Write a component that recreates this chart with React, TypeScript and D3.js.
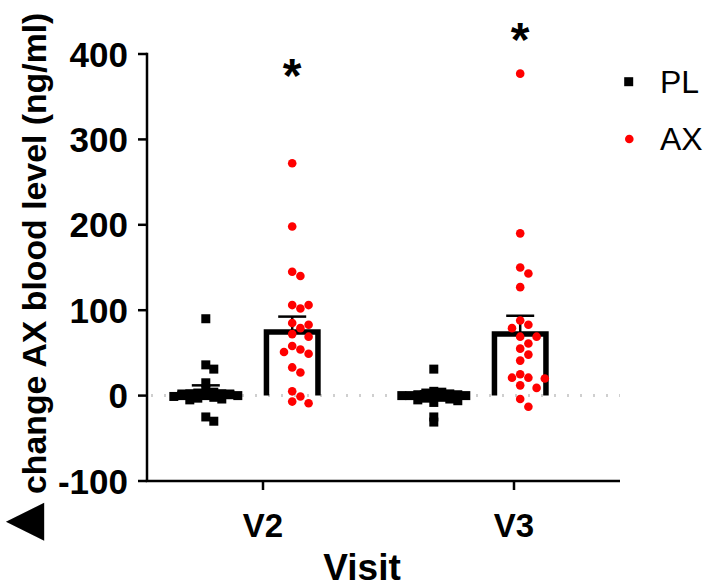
import React from 'react';
import * as d3 from 'd3';

const VISITS = ['V2', 'V3'];
const GROUPS = ['PL', 'AX'];

// individual subjects
const PL_V2 = [90, 36, 31, 15, 6, 4, 3, 2, 2, 1, 0, 0, 0, -1, -2, -3, -4, -5, -25, -30];
const PL_V3 = [31, 5, 4, 3, 2, 1, 1, 0, 0, 0, -1, -2, -3, -4, -5, -6, -8, -25, -31];
const AX_V2 = [272, 198, 145, 140, 106, 106, 102, 85, 83, 79, 72, 69, 58, 54, 51, 49, 33, 27, 5, -1, -7, -9];
const AX_V3 = [377, 190, 150, 143, 127, 88, 83, 79, 69, 69, 61, 55, 48, 41, 25, 21, 21, 20, 12, 9, -4, -13];

// bar heights (mean) and error bars (SEM)
const PL_MEAN = [4, 1];
const PL_SEM = [8, 4];
const AX_MEAN = [74.5, 72];
const AX_SEM = [18, 21.5];

const STAR_VISITS = ['V2', 'V3'];
const STAR_LEVEL = [388, 430];

const Y_TICKS = [-100, 0, 100, 200, 300, 400];

const W = 709;
const H = 587;
const AXIS_X = 147;
const AXIS_RIGHT = 620;
const BAR_W = 51.5;
const CAP_W = 28;
const FONT = '"Liberation Sans", Arial, Helvetica, sans-serif';

const y = d3.scaleLinear().domain([-100, 400]).range([481, 54]);
const xVisit = d3.scalePoint<string>().domain(VISITS).range([249, 477]);
const xGroup = d3.scalePoint<string>().domain(GROUPS).range([-43.2, 43.2]);
// category ticks sit a little right of the group centres in the original
const xTick = d3.scalePoint<string>().domain(VISITS).range([263, 514]);

// simple beeswarm: put each point in the closest free column
function swarm(values: number[], step: number, size: number) {
  const placed: { dx: number; py: number; v: number }[] = [];
  const sorted = [...values].sort((a, b) => b - a);
  for (const v of sorted) {
    const py = y(v);
    for (let i = 0; i < 40; i++) {
      const k = i === 0 ? 0 : (i % 2 === 1 ? (i + 1) / 2 : -i / 2);
      const dx = k * step;
      const hit = placed.some((p) => Math.hypot(p.dx - dx, p.py - py) < size);
      if (!hit) {
        placed.push({ dx, py, v });
        break;
      }
    }
  }
  return placed;
}

const SERIES = [
  { group: 'PL', data: [PL_V2, PL_V3], mean: PL_MEAN, sem: PL_SEM },
  { group: 'AX', data: [AX_V2, AX_V3], mean: AX_MEAN, sem: AX_SEM },
];

export default function App() {
  const y0 = y(0);
  return (
    <div style={{ position: 'absolute', left: 0, top: 0 }}>
      <svg width={W} height={H} viewBox={`0 0 ${W} ${H}`} style={{ display: 'block', background: '#fff' }}>
        {/* dotted zero line */}
        <line x1={AXIS_X + 4} x2={AXIS_RIGHT} y1={y0} y2={y0} stroke="#cfcfcf" strokeWidth={3} strokeDasharray="2,11" />

        {/* bars + error bars */}
        {SERIES.map((s) =>
          VISITS.map((vis, i) => {
            const cx = xVisit(vis)! + xGroup(s.group)!;
            const top = y(s.mean[i]);
            const errTop = y(s.mean[i] + s.sem[i]);
            return (
              <g key={s.group + vis}>
                <line x1={cx} x2={cx} y1={top} y2={errTop} stroke="#000" strokeWidth={2.5} />
                <line x1={cx - CAP_W / 2} x2={cx + CAP_W / 2} y1={errTop} y2={errTop} stroke="#000" strokeWidth={2.5} />
                <path
                  d={`M${cx - BAR_W / 2},${y0}V${top}H${cx + BAR_W / 2}V${y0}`}
                  fill="none"
                  stroke="#000"
                  strokeWidth={5.5}
                />
              </g>
            );
          })
        )}

        {/* points */}
        {VISITS.map((vis, i) => {
          const cx = xVisit(vis)! + xGroup('PL')!;
          return swarm(SERIES[0].data[i], 8, 4.5).map((p, j) => (
            <rect key={'pl' + vis + j} x={cx + p.dx - 4.5} y={p.py - 4.5} width={9} height={9} fill="#000" />
          ));
        })}
        {VISITS.map((vis, i) => {
          const cx = xVisit(vis)! + xGroup('AX')!;
          return swarm(SERIES[1].data[i], 8.2, 8.6).map((p, j) => (
            <circle key={'ax' + vis + j} cx={cx + p.dx} cy={p.py} r={4.3} fill="#ff0000" />
          ));
        })}

        {/* significance stars */}
        {STAR_VISITS.map((vis, i) => (
          <text
            key={'star' + vis}
            x={xVisit(vis)! + xGroup('AX')!}
            y={y(STAR_LEVEL[i]) + 28}
            textAnchor="middle"
            fontFamily={FONT}
            fontWeight="bold"
            fontSize={48}
          >
            *
          </text>
        ))}

        {/* y axis */}
        <line x1={AXIS_X} x2={AXIS_X} y1={y(400) - 1.25} y2={y(-100)} stroke="#000" strokeWidth={2.5} />
        {Y_TICKS.map((t) => (
          <g key={t} transform={`translate(0,${y(t)})`}>
            <line x1={AXIS_X - 9} x2={AXIS_X} stroke="#000" strokeWidth={2.5} />
            <text x={AXIS_X - 19} dy="0.36em" textAnchor="end" fontFamily={FONT} fontWeight="bold" fontSize={35}>
              {t}
            </text>
          </g>
        ))}

        {/* x axis */}
        <line x1={AXIS_X - 1.25} x2={AXIS_RIGHT} y1={y(-100)} y2={y(-100)} stroke="#000" strokeWidth={2.5} />
        {VISITS.map((vis) => (
          <g key={vis} transform={`translate(${xTick(vis)},${y(-100)})`}>
            <line y1={0} y2={9} stroke="#000" strokeWidth={2.5} />
            <text y={56} textAnchor="middle" fontFamily={FONT} fontWeight="bold" fontSize={33}>
              {vis}
            </text>
          </g>
        ))}
        <text x={362} y={580} textAnchor="middle" fontFamily={FONT} fontWeight="bold" fontSize={37}>
          Visit
        </text>

        {/* y axis title */}
        <text transform="translate(46,541) rotate(-90)" fontFamily={FONT} fontWeight="bold" fontSize={33.8}>
          <tspan x={0} dy={-8} fontFamily="DejaVu Sans" fontSize={50}>▲</tspan>
          <tspan x={47} dy={8}>change AX blood level (ng/ml)</tspan>
        </text>

        {/* legend */}
        <rect x={628.7 - 4.5} y={81.7 - 4.5} width={9} height={9} fill="#000" />
        <text x={660} y={93} fontFamily={FONT} fontSize={32}>PL</text>
        <circle cx={629.3} cy={139} r={4.3} fill="#ff0000" />
        <text x={660} y={150} fontFamily={FONT} fontSize={32}>AX</text>
      </svg>
    </div>
  );
}
